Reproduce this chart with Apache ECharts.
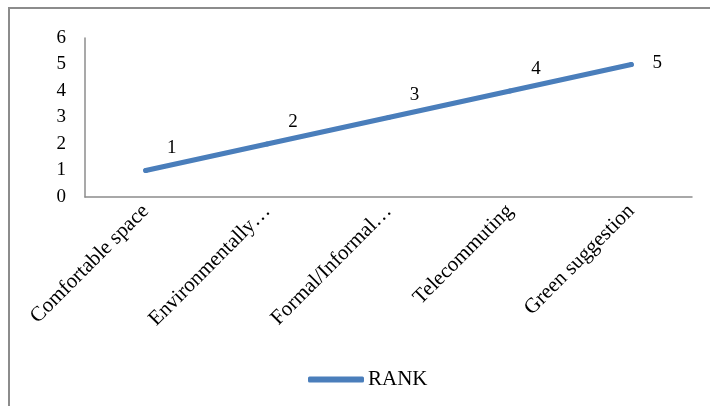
<!DOCTYPE html>
<html>
<head>
<meta charset="utf-8">
<script src="https://cdn.jsdelivr.net/npm/echarts@6/dist/echarts.min.js"></script>
<style>
    html, body { margin: 0; padding: 0; background: #fff; }
    #chart { width: 710px; height: 406px; }
</style>
</head>
<body>
<div id="chart"></div>
<script>
    // categories and rank values
    var categories = [
        'Comfortable space',
        'Environmentally\u2026',
        'Formal/Informal\u2026',
        'Telecommuting',
        'Green suggestion'
    ];
    var rankValues = [1, 2, 3, 4, 5];
    var yTicks = [0, 1, 2, 3, 4, 5, 6];

    var font = 'Liberation Serif, Times New Roman, serif';
    var chart = echarts.init(document.getElementById('chart'));

    chart.setOption({
        backgroundColor: '#fff',
        animation: false,
        graphic: [{
            type: 'rect',
            shape: { x: 9, y: 8, width: 760, height: 460 },
            style: { fill: 'none', stroke: '#8c8c8c', lineWidth: 2 },
            silent: true
        }],
        grid: { left: 85, right: 18, top: 38, bottom: 209 },
        xAxis: {
            type: 'category',
            data: categories,
            boundaryGap: true,
            axisLine: { lineStyle: { color: '#8c8c8c', width: 1.5 } },
            axisTick: { show: false },
            axisLabel: {
                rotate: 45,
                interval: 0,
                margin: 11,
                color: '#000',
                fontFamily: font,
                fontSize: 21
            }
        },
        yAxis: {
            type: 'value',
            min: yTicks[0],
            max: yTicks[yTicks.length - 1],
            interval: 1,
            splitLine: { show: false },
            axisLine: { show: true, lineStyle: { color: '#8c8c8c', width: 1.5 } },
            axisTick: { show: false },
            axisLabel: {
                margin: 19,
                color: '#000',
                fontFamily: font,
                fontSize: 19
            }
        },
        legend: {
            data: ['RANK'],
            top: 364,
            left: 303,
            icon: 'roundRect',
            itemWidth: 56,
            itemHeight: 6,
            textStyle: { color: '#000', fontFamily: font, fontSize: 21, padding: [0, 0, 0, -1] }
        },
        series: [{
            name: 'RANK',
            type: 'line',
            data: rankValues.map(function (v, i) {
                var item = { value: v };
                if (i === rankValues.length - 1) {
                    item.label = { offset: [26, -1] };
                }
                return item;
            }),
            symbol: 'circle',
            symbolSize: 5,
            showSymbol: true,
            lineStyle: { color: '#4a7ebb', width: 5, cap: 'round' },
            itemStyle: { color: '#4a7ebb' },
            label: {
                show: true,
                position: 'inside',
                offset: [26, -22],
                color: '#000',
                fontFamily: font,
                fontSize: 19
            }
        }]
    });
</script>
</body>
</html>
